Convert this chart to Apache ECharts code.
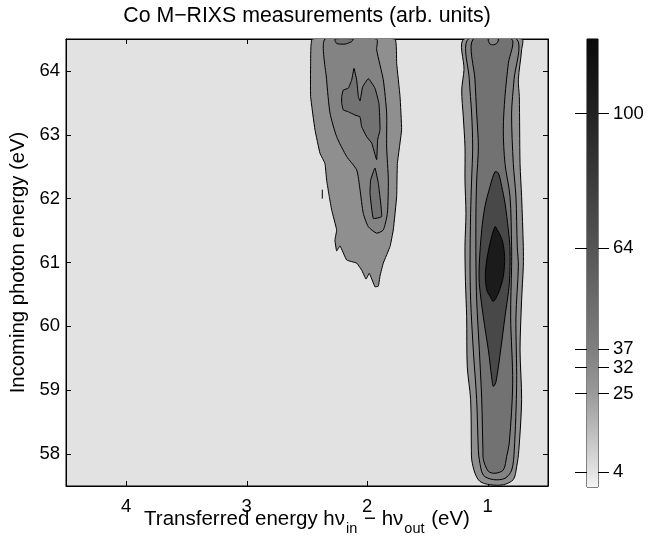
<!DOCTYPE html>
<html>
<head>
<meta charset="utf-8">
<script src="https://cdn.jsdelivr.net/npm/echarts@6/dist/echarts.min.js"></script>
<style>
html, body { margin: 0; padding: 0; background: #fff; }
#main { width: 648px; height: 537px; }
</style>
</head>
<body>
<div id="main"></div>
<script>
// contour levels (also the colour bar ticks)
var levels = [4, 25, 32, 37, 64, 100];
// fill of the band that starts at each level
var bandColors = ['#e2e2e2', '#8f8f8f', '#838383', '#727272', '#484848', '#1b1b1b'];
var xTicks = [1, 2, 3, 4];
var yTicks = [58, 59, 60, 61, 62, 63, 64];
// colour bar shading, value -> grey
var cbarValues = [0, 4, 25, 37, 64, 100, 120];
var cbarGrays = ['#f5f5f5', '#e2e2e2', '#9a9a9a', '#7f7f7f', '#555555', '#222222', '#0a0a0a'];

// contour outlines, [transferred energy (eV), incoming photon energy (eV)]
// right column (~1 eV)
var right25 = [[1.197,64.50],[1.197,64.02],[1.216,63.70],[1.203,63.28],[1.189,62.81],[1.189,62.29],[1.181,61.77],[1.189,61.25],
  [1.185,60.70],[1.175,60.15],[1.170,59.37],[1.142,58.85],[1.136,58.06],[1.133,57.91],[1.106,57.70],[1.064,57.57],[0.981,57.52],
  [0.871,57.52],[0.788,57.60],[0.760,57.80],[0.742,58.06],[0.719,58.85],[0.732,59.63],[0.719,60.41],[0.705,60.94],[0.705,61.25],
  [0.719,62.03],[0.732,62.55],[0.738,63.60],[0.746,63.86],[0.719,64.33],[0.719,64.50]];
var right32 = [[1.161,64.50],[1.153,63.86],[1.134,63.34],[1.125,62.81],[1.134,62.29],[1.142,61.77],[1.147,60.99],[1.142,60.41],
  [1.120,59.63],[1.092,58.85],[1.078,58.06],[1.070,57.91],[1.037,57.67],[0.954,57.60],[0.857,57.62],[0.801,57.75],[0.780,58.06],
  [0.760,59.11],[0.766,60.15],[0.746,60.94],[0.755,61.25],[0.766,62.03],[0.788,62.55],[0.802,63.34],[0.782,63.86],[0.760,64.50]];
var right37 = [[1.120,64.50],[1.106,63.86],[1.092,63.34],[1.078,62.81],[1.092,62.29],[1.098,61.77],[1.098,60.99],[1.092,60.41],
  [1.070,59.63],[1.050,58.85],[1.040,58.06],[1.036,57.91],[0.995,57.73],[0.940,57.70],[0.871,57.75],[0.843,57.96],[0.820,58.20],
  [0.793,59.11],[0.810,60.15],[0.802,60.94],[0.802,61.25],[0.815,62.03],[0.857,62.55],[0.871,63.08],[0.857,63.60],[0.829,64.12],[0.802,64.50]];
var rightNotch = [[0.995,64.50],[0.981,64.42],[0.954,64.41],[0.926,64.43],[0.912,64.50]];
var right64 = [[0.940,62.42],[0.981,62.19],[1.023,61.88],[1.050,61.51],[1.070,60.99],[1.070,60.67],[1.037,60.15],[0.995,59.63],
  [0.968,59.21],[0.954,59.06],[0.932,59.13],[0.893,59.63],[0.857,60.15],[0.821,60.67],[0.815,61.20],[0.829,61.51],[0.857,61.93],
  [0.884,62.19],[0.912,62.40]];
var right100 = [[0.940,61.56],[0.981,61.30],[1.012,60.99],[1.020,60.75],[1.005,60.55],[0.981,60.47],[0.954,60.39],[0.912,60.52],
  [0.871,60.78],[0.860,61.09],[0.880,61.35],[0.920,61.51]];
// left blob (~2 eV)
var left25 = [[2.456,64.50],[2.470,64.12],[2.470,63.60],[2.434,63.08],[2.392,62.71],[2.351,62.55],[2.337,62.29],[2.315,62.03],
  [2.295,61.82],[2.254,61.51],[2.268,61.35],[2.254,61.18],[2.226,61.26],[2.171,61.04],[2.088,60.99],[2.046,60.88],[2.010,60.74],
  [1.983,60.83],[1.936,60.62],[1.908,60.63],[1.894,60.79],[1.867,60.99],[1.811,61.25],[1.784,61.51],[1.756,62.03],[1.750,62.55],
  [1.715,63.08],[1.728,63.60],[1.756,64.12],[1.770,64.50]];
var left32 = [[2.351,64.50],[2.337,63.86],[2.309,63.34],[2.254,62.97],[2.171,62.66],[2.088,62.45],[2.060,62.14],[2.033,61.77],
  [1.991,61.56],[1.922,61.46],[1.867,61.51],[1.833,61.77],[1.825,62.29],[1.839,62.81],[1.839,63.34],[1.867,63.86],[1.922,64.33],[1.922,64.50]];
var left37a = [[2.212,63.60],[2.199,63.70],[2.157,63.73],[2.129,63.86],[2.110,64.04],[2.088,63.86],[2.074,63.60],[2.060,63.53],
  [2.038,63.75],[1.991,63.88],[1.936,63.73],[1.903,63.49],[1.894,63.08],[1.914,62.92],[1.922,62.61],[1.963,62.87],[2.005,62.97],
  [2.047,63.13],[2.060,63.28],[2.102,63.31],[2.157,63.36],[2.199,63.39],[2.212,63.49]];
var left37b = [[1.936,62.48],[1.908,62.24],[1.880,61.72],[1.950,61.69],[1.977,62.08],[1.972,62.29]];
var left37c = [[2.268,64.50],[2.254,64.43],[2.185,64.42],[2.129,64.46],[2.116,64.50]];
var leftSpeck = [[2.373,62.14],[2.373,62.00]];

// draw order: outer first
var contours = [
  { pts: right25, level: 25, smooth: 0.3 },
  { pts: right32, level: 32, smooth: 0.3 },
  { pts: right37, level: 37, smooth: 0.3 },
  { pts: rightNotch, level: 32, smooth: 0.3 },
  { pts: right64, level: 64, smooth: 0.3 },
  { pts: right100, level: 100, smooth: 0.3 },
  { pts: left25, level: 25, smooth: 0.1 },
  { pts: left32, level: 32, smooth: 0.2 },
  { pts: left37a, level: 37, smooth: 0.1 },
  { pts: left37b, level: 37, smooth: 0.1 },
  { pts: left37c, level: 37, smooth: 0.2 },
  { pts: leftSpeck, level: 25, line: true }
];

var font = '"Liberation Sans", Arial, Helvetica, sans-serif';
var myChart = echarts.init(document.getElementById('main'));

var cbarStops = cbarValues.map(function (v, i) {
  return { offset: v / 120, color: cbarGrays[i] };
});

function plainAxis(extra) {
  var base = {
    axisLine: { show: true, onZero: false, lineStyle: { color: '#000', width: 1 } },
    splitLine: { show: false },
    axisLabel: { color: '#000', fontSize: 18.5, fontFamily: font },
    nameTextStyle: { color: '#000', fontSize: 20.3, fontFamily: font }
  };
  return Object.assign(base, extra);
}

var option = {
  animation: false,
  backgroundColor: '#fff',
  textStyle: { fontFamily: font },
  title: {
    text: 'Co M\u2212RIXS measurements (arb. units)',
    left: 302,
    top: 1,
    textAlign: 'center',
    textStyle: { color: '#000', fontSize: 21.3, fontWeight: 'normal', fontFamily: font }
  },
  grid: [
    { left: 66, top: 39, width: 482, height: 447, show: true, backgroundColor: bandColors[0], borderColor: '#000', borderWidth: 1, outerBoundsMode: 'none' },
    { left: 587, top: 39, width: 11, height: 448, show: true, borderColor: '#000', borderWidth: 1, outerBoundsMode: 'none' }
  ],
  xAxis: [
    plainAxis({
      gridIndex: 0, type: 'value', min: 0.5, max: 4.5, inverse: true, position: 'bottom',
      axisTick: { inside: true, length: 5, customValues: xTicks, lineStyle: { color: '#000' } },
      axisLabel: { customValues: xTicks, color: '#000', fontSize: 18.5, fontFamily: font, margin: 11 },
      name: '{t|Transferred energy h\u03bd}{s|in}{t| \u2212 h\u03bd}{s|out}{t| (eV)}',
      nameLocation: 'middle',
      nameGap: 23,
      nameMoveOverlap: false,
      nameTextStyle: {
        rich: {
          t: { fontSize: 20.5, fontFamily: font, color: '#000', verticalAlign: 'top' },
          s: { fontSize: 14.5, fontFamily: font, color: '#000', verticalAlign: 'top', padding: [12, 1, 0, 1] }
        }
      }
    }),
    plainAxis({
      gridIndex: 0, type: 'value', min: 0.5, max: 4.5, inverse: true, position: 'top',
      axisTick: { inside: true, length: 5, customValues: xTicks, lineStyle: { color: '#000' } },
      axisLabel: { show: false }
    }),
    { gridIndex: 1, type: 'category', data: ['bar'], show: false }
  ],
  yAxis: [
    plainAxis({
      gridIndex: 0, type: 'value', min: 57.5, max: 64.5, position: 'left',
      axisTick: { inside: true, length: 5, customValues: yTicks, lineStyle: { color: '#000' } },
      axisLabel: { customValues: yTicks, color: '#000', fontSize: 18.5, fontFamily: font, margin: 6 },
      name: 'Incoming photon energy (eV)',
      nameLocation: 'middle',
      nameRotate: 90,
      nameGap: 38,
      nameMoveOverlap: false
    }),
    plainAxis({
      gridIndex: 0, type: 'value', min: 57.5, max: 64.5, position: 'right',
      axisTick: { inside: true, length: 5, customValues: yTicks, lineStyle: { color: '#000' } },
      axisLabel: { show: false }
    }),
    {
      gridIndex: 1, type: 'value', min: 0, max: 120, position: 'right',
      axisLine: { show: false },
      splitLine: { show: false },
      axisTick: { show: true, inside: false, length: 11, customValues: levels, lineStyle: { color: '#000' } },
      axisLabel: { customValues: levels, color: '#000', fontSize: 18.5, fontFamily: font, margin: 15 }
    },
    {
      gridIndex: 1, type: 'value', min: 0, max: 120, position: 'left',
      axisLine: { show: false },
      splitLine: { show: false },
      axisTick: { show: true, inside: false, length: 12, customValues: levels, lineStyle: { color: '#000' } },
      axisLabel: { show: false }
    }
  ],
  series: [
    {
      type: 'custom',
      xAxisIndex: 0,
      yAxisIndex: 0,
      clip: true,
      silent: true,
      data: contours.map(function (c, i) { return [c.pts[0][0], c.pts[0][1], i]; }),
      encode: { x: 0, y: 1 },
      renderItem: function (params, api) {
        var c = contours[params.dataIndex];
        var pts = c.pts.map(function (p) { return api.coord(p); });
        if (c.line) {
          return { type: 'polyline', shape: { points: pts }, style: { fill: null, stroke: '#000', lineWidth: 1 } };
        }
        return {
          type: 'polygon',
          shape: { points: pts, smooth: c.smooth },
          style: { fill: bandColors[levels.indexOf(c.level)], stroke: '#000', lineWidth: 1 }
        };
      }
    },
    {
      type: 'bar',
      xAxisIndex: 2,
      yAxisIndex: 2,
      silent: true,
      barWidth: '100%',
      data: [120],
      itemStyle: { color: new echarts.graphic.LinearGradient(0, 1, 0, 0, cbarStops) }
    }
  ]
};

myChart.setOption(option);
</script>
</body>
</html>
